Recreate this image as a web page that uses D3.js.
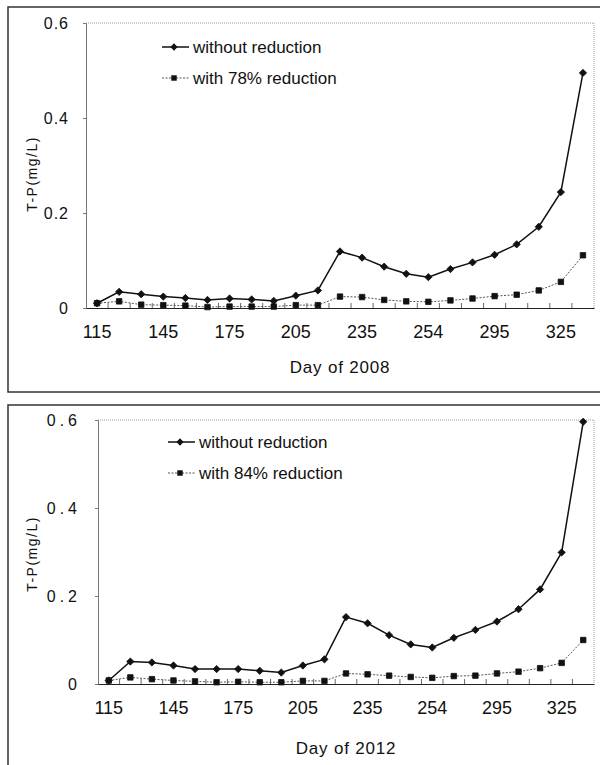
<!DOCTYPE html>
<html>
<head>
<meta charset="utf-8">
<script src="https://cdn.jsdelivr.net/npm/d3@7"></script>
<style>
	body { margin: 0; background: #fff; }
	svg { display: block; font-family: "Liberation Sans", Arial, sans-serif; }
</style>
</head>
<body>
<svg id="chart" width="600" height="765"></svg>
<script>
// x tick labels, one every 3rd sampling day
var tickLabels = ["115", "145", "175", "205", "235", "254", "295", "325"];

// T-P (mg/L), 2008
var tp2008Without = [0.010, 0.034, 0.029, 0.024, 0.021, 0.017, 0.020, 0.018, 0.015, 0.026, 0.037, 0.119,
	0.106, 0.087, 0.072, 0.065, 0.082, 0.096, 0.112, 0.134, 0.171, 0.244, 0.495];
var tp2008With = [0.010, 0.014, 0.007, 0.006, 0.005, 0.002, 0.003, 0.003, 0.003, 0.006, 0.006, 0.024,
	0.023, 0.017, 0.014, 0.013, 0.016, 0.020, 0.025, 0.028, 0.037, 0.055, 0.111];

// T-P (mg/L), 2012
var tp2012Without = [0.008, 0.051, 0.049, 0.042, 0.034, 0.034, 0.034, 0.030, 0.026, 0.042, 0.056, 0.152,
	0.138, 0.111, 0.090, 0.083, 0.105, 0.123, 0.142, 0.170, 0.215, 0.299, 0.596];
var tp2012With = [0.008, 0.015, 0.011, 0.008, 0.006, 0.004, 0.005, 0.004, 0.004, 0.007, 0.007, 0.024,
	0.022, 0.019, 0.016, 0.014, 0.018, 0.019, 0.024, 0.028, 0.036, 0.048, 0.100];

var yTicks = [0, 0.2, 0.4, 0.6];

var svg = d3.select("#chart");

var drawPanel = function(p){
	var g = svg.append("g");

	// outer frame
	g.append("rect")
		.attr("x", p.frame[0]).attr("y", p.frame[1])
		.attr("width", p.frame[2]).attr("height", p.frame[3])
		.attr("fill", "none").attr("stroke", "#333").attr("stroke-width", 1.5);

	var idx = d3.range(p.without.length);
	var x = d3.scaleBand().domain(idx).range([p.left, p.right]);
	var y = d3.scaleLinear().domain([0, 0.6]).range([p.bottom, p.top]);
	var cx = function(i) {return x(i) + x.bandwidth()/2;};

	// plot area border (top/right, dotted)
	g.append("path")
		.attr("d", "M" + p.left + "," + p.top + "H" + p.right + "V" + p.bottom)
		.attr("fill", "none").attr("stroke", "#999").attr("stroke-dasharray", "1,1");

	// y axis
	var yAxis = g.append("g")
		.attr("transform", "translate(" + p.left + ",0)")
		.call(d3.axisLeft(y).tickValues(yTicks).tickSize(3).tickPadding(p.yPad)
			.tickFormat(function(d) {return d == 0 ? "0" : d.toFixed(1);}));
	yAxis.select(".domain").attr("stroke", "#777");
	yAxis.selectAll(".tick line").attr("stroke", "#777");
	yAxis.selectAll("text")
		.attr("font-size", 16).attr("fill", "#111")
		.style("letter-spacing", p.ySpacing + "px");

	// category boundary ticks, pointing up
	g.selectAll(".cat-tick")
		.data(idx.slice(1))
		.enter()
		.append("line")
		.attr("class", "cat-tick")
		.attr("x1", function(d) {return x(d);})
		.attr("x2", function(d) {return x(d);})
		.attr("y1", p.bottom)
		.attr("y2", p.bottom - 5)
		.attr("stroke", "#666");

	// x axis
	var xAxis = g.append("g")
		.attr("transform", "translate(0," + p.bottom + ")")
		.call(d3.axisBottom(x).tickValues(idx.filter(function(d) {return d % 3 == 0;}))
			.tickSize(0).tickPadding(24)
			.tickFormat(function(d) {return tickLabels[d/3];}));
	xAxis.select(".domain").attr("stroke", "#222").attr("stroke-width", 1.2);
	xAxis.selectAll("text").attr("font-size", 18).attr("fill", "#111").attr("dy", "0.32em");

	// axis titles
	g.append("text")
		.attr("x", (p.left + p.right)/2)
		.attr("y", p.titleY)
		.attr("text-anchor", "middle")
		.attr("font-size", 17)
		.style("letter-spacing", "0.8px")
		.attr("fill", "#111")
		.text(p.xTitle);

	g.append("text")
		.attr("transform", "translate(" + p.yTitleX + "," + p.yTitleY + ") rotate(-90)")
		.attr("text-anchor", "middle")
		.attr("font-size", 14)
		.style("letter-spacing", "1.5px")
		.attr("fill", "#111")
		.text("T-P(mg/L)");

	// series lines
	var line = d3.line()
		.x(function(d, i) {return cx(i);})
		.y(function(d) {return y(d);});

	g.append("path")
		.datum(p.withR)
		.attr("d", line)
		.attr("fill", "none").attr("stroke", "#555").attr("stroke-width", 1)
		.attr("stroke-dasharray", "2,1.5");

	g.append("path")
		.datum(p.without)
		.attr("d", line)
		.attr("fill", "none").attr("stroke", "#111").attr("stroke-width", 1.5);

	var diamond = d3.symbol().type(d3.symbolDiamond2).size(34);
	var square = d3.symbol().type(d3.symbolSquare2).size(38);

	g.selectAll(".sq")
		.data(p.withR)
		.enter()
		.append("path")
		.attr("class", "sq")
		.attr("d", square)
		.attr("transform", function(d, i) {return "translate(" + cx(i) + "," + y(d) + ")";})
		.attr("fill", "#111").attr("stroke", "#111").attr("stroke-width", 0.8);

	g.selectAll(".dia")
		.data(p.without)
		.enter()
		.append("path")
		.attr("class", "dia")
		.attr("d", diamond)
		.attr("transform", function(d, i) {return "translate(" + cx(i) + "," + y(d) + ")";})
		.attr("fill", "#111").attr("stroke", "#111").attr("stroke-width", 0.8);

	// legend
	var lg = g.append("g").attr("transform", "translate(" + p.legend[0] + "," + p.legend[1] + ")");
	lg.append("line").attr("x1", 0).attr("x2", 27).attr("y1", 0).attr("y2", 0)
		.attr("stroke", "#111").attr("stroke-width", 1.5);
	lg.append("path").attr("d", diamond).attr("transform", "translate(12,0)").attr("fill", "#111");
	lg.append("text").attr("x", 31).attr("y", 0).attr("dy", "0.35em")
		.attr("font-size", 17).attr("fill", "#111").text("without reduction");

	lg.append("line").attr("x1", 0).attr("x2", 27).attr("y1", 31).attr("y2", 31)
		.attr("stroke", "#555").attr("stroke-width", 1).attr("stroke-dasharray", "2,1.5");
	lg.append("path").attr("d", square).attr("transform", "translate(12,31)").attr("fill", "#111");
	lg.append("text").attr("x", 31).attr("y", 31).attr("dy", "0.35em")
		.attr("font-size", 17).attr("fill", "#111").text(p.withLabel);
};

drawPanel({
	frame: [8, 7, 600, 385],
	left: 86, right: 594, top: 23, bottom: 308,
	yPad: 14, ySpacing: 1,
	titleY: 373, xTitle: "Day of 2008",
	yTitleX: 37, yTitleY: 174,
	legend: [162, 47],
	without: tp2008Without, withR: tp2008With,
	withLabel: "with 78% reduction"
});

drawPanel({
	frame: [8, 405, 600, 380],
	left: 98, right: 594, top: 420, bottom: 684,
	yPad: 14, ySpacing: 4,
	titleY: 754, xTitle: "Day of 2012",
	yTitleX: 37, yTitleY: 554,
	legend: [168, 442],
	without: tp2012Without, withR: tp2012With,
	withLabel: "with 84% reduction"
});
</script>
</body>
</html>
